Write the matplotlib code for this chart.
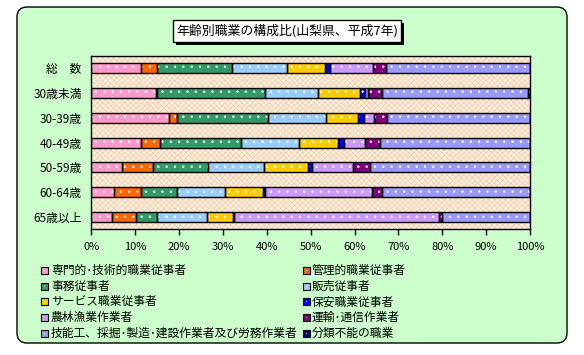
import numpy as np
import matplotlib
matplotlib.use("Agg")
import matplotlib.pyplot as plt
from matplotlib.patches import Rectangle, FancyBboxPatch

plt.rcParams["font.family"] = ["Noto Sans CJK JP", "DejaVu Sans"]
plt.rcParams["hatch.linewidth"] = 0.5

# ── Data (percent) ────────────────────────────────────────────
AGE_GROUPS = ["総　数", "30歳未満", "30-39歳", "40-49歳", "50-59歳", "60-64歳", "65歳以上"]

OCCUPATIONS = [
    "専門的･技術的職業従事者",
    "管理的職業従事者",
    "事務従事者",
    "販売従事者",
    "サービス職業従事者",
    "保安職業従事者",
    "農林漁業作業者",
    "運輸･通信作業者",
    "技能工、採掘･製造･建設作業者及び労務作業者",
    "分類不能の職業",
]

professional = [11.4, 14.7, 17.8, 11.4, 7.1, 5.2, 4.8]
managerial   = [3.5, 0.3, 1.7, 4.2, 6.9, 6.1, 5.3]
clerical     = [17.2, 24.5, 20.7, 18.5, 12.6, 8.2, 4.9]
sales        = [12.5, 12.1, 13.2, 13.2, 12.7, 11.0, 11.3]
service      = [8.7, 9.6, 7.3, 8.9, 10.1, 8.6, 5.9]
security     = [1.1, 1.2, 1.5, 1.5, 0.8, 0.6, 0.4]
agriculture  = [9.7, 0.7, 2.2, 4.6, 9.4, 24.2, 46.6]
transport    = [3.1, 3.1, 2.9, 3.4, 3.9, 2.3, 0.8]
production   = [32.7, 33.4, 32.6, 34.2, 36.4, 33.7, 19.9]
unclassified = [0.1, 0.4, 0.1, 0.1, 0.1, 0.1, 0.1]

SERIES = [professional, managerial, clerical, sales, service,
          security, agriculture, transport, production, unclassified]

COLORS = ["#FF99CC", "#FF6600", "#339966", "#99CCFF", "#FFCC00",
          "#0000FF", "#CC99FF", "#800080", "#9999FF", "#000080"]

TICKS = np.arange(0, 101, 10)
TICK_LABELS = [f"{t}%" for t in TICKS]

TITLE = "年齢別職業の構成比(山梨県、平成7年)"

# ── Figure ────────────────────────────────────────────────────
W, H = 584, 355
fig = plt.figure(figsize=(W / 100, H / 100), dpi=100)
fig.patch.set_facecolor("white")

# pixel-coordinate background axes
bg = fig.add_axes([0, 0, 1, 1], zorder=0)
bg.set_xlim(0, W)
bg.set_ylim(H, 0)
bg.axis("off")

bg.add_patch(FancyBboxPatch((17, 7), 550, 336,
                            boxstyle="round,pad=0,rounding_size=10",
                            facecolor="#CCFFCC", edgecolor="black", lw=1))

# title box with shadow
bg.add_patch(Rectangle((176, 23), 228, 22, facecolor="black", lw=0))
bg.add_patch(Rectangle((173, 20), 228, 22, facecolor="white",
                       edgecolor="black", lw=1))
bg.text(287, 31, TITLE, ha="center", va="center", fontsize=9.3)

# ── Plot area ─────────────────────────────────────────────────
x0, x1 = 91.3, 530.0
y0, y1 = 56.0, 229.3
ax = fig.add_axes([x0 / W, 1 - y1 / H, (x1 - x0) / W, (y1 - y0) / H], zorder=1)
ax.set_facecolor("white")
ax.add_patch(Rectangle((0, 0), 1, 1, transform=ax.transAxes,
                       facecolor="#FFF1E4", edgecolor="#F8C79E",
                       hatch="xxxxxx", lw=0, zorder=0))

ypos = np.arange(len(AGE_GROUPS))
left = np.zeros(len(AGE_GROUPS))
for vals, color in zip(SERIES, COLORS):
    vals = np.array(vals)
    ax.barh(ypos, vals, left=left, height=0.4, color=color,
            edgecolor="white", hatch="..", lw=0, zorder=2)
    ax.barh(ypos, vals, left=left, height=0.4, fill=False,
            edgecolor="black", lw=1.0, zorder=3)
    left += vals

ax.set_xlim(0, 100)
ax.set_ylim(len(AGE_GROUPS) - 0.5, -0.5)
ax.set_xticks(TICKS)
ax.set_xticklabels(TICK_LABELS, fontsize=8)
ax.set_yticks(ypos)
ax.set_yticklabels(AGE_GROUPS, fontsize=8.5)
ax.tick_params(axis="x", direction="out", length=4, width=1, pad=5)
ax.tick_params(axis="y", length=0, pad=7)
for spine in ax.spines.values():
    spine.set_edgecolor("black")
    spine.set_linewidth(1)

# ── Legend (two columns, row-wise order) ──────────────────────
row_y = [270.7, 286.7, 301.7, 317.0, 333.0]
col_marker_x = [40.5, 302.5]
col_text_x = [51, 312]
for i, (label, color) in enumerate(zip(OCCUPATIONS, COLORS)):
    r, c = divmod(i, 2)
    yy = row_y[r]
    mx = col_marker_x[c]
    bg.add_patch(Rectangle((mx, yy - 3.5), 7, 7, facecolor=color,
                           edgecolor="black", lw=0.8))
    bg.add_patch(Rectangle((mx + 3, yy - 0.5), 1.2, 1.2,
                           facecolor="white", lw=0))
    bg.text(col_text_x[c], yy, label, ha="left", va="center", fontsize=8.5)

fig.savefig("out.png", dpi=100, facecolor=fig.get_facecolor())
